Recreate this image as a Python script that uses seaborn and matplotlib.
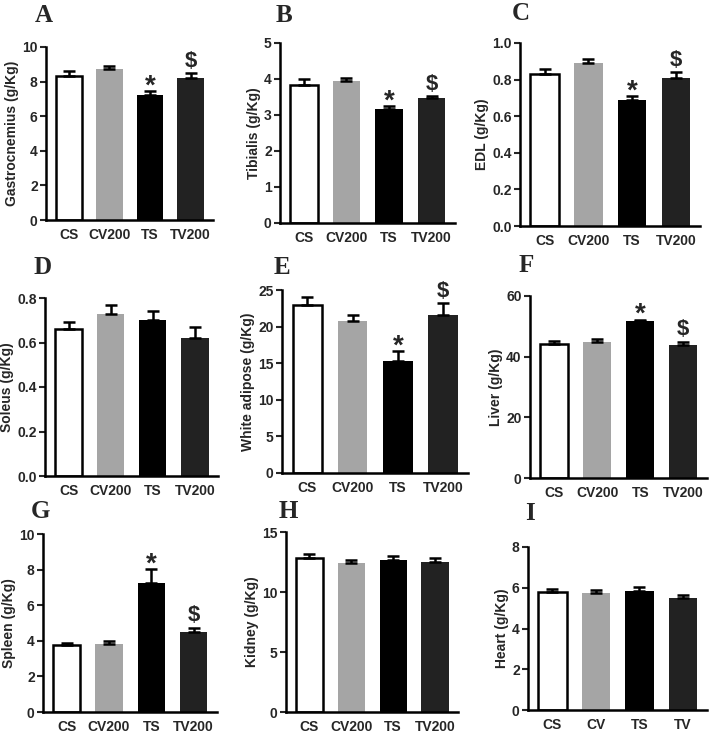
import numpy as np
import matplotlib
matplotlib.use("Agg")
import matplotlib.pyplot as plt
from matplotlib.ticker import FormatStrFormatter
from matplotlib.font_manager import FontProperties
import seaborn as sns

# groups on the x axis
groups = ["CS", "CV200", "TS", "TV200"]
groups_short = ["CS", "CV", "TS", "TV"]

# organ weights (g/Kg), mean and SEM
gastrocnemius = [8.35, 8.75, 7.2, 8.2]
gastrocnemius_err = [0.25, 0.15, 0.25, 0.3]
tibialis = [3.82, 3.95, 3.17, 3.47]
tibialis_err = [0.18, 0.08, 0.07, 0.06]
edl = [0.83, 0.89, 0.69, 0.81]
edl_err = [0.03, 0.02, 0.02, 0.03]
soleus = [0.66, 0.73, 0.70, 0.62]
soleus_err = [0.03, 0.04, 0.04, 0.05]
white_adipose = [23.0, 20.8, 15.3, 21.6]
white_adipose_err = [1.0, 0.8, 1.3, 1.6]
liver = [44.3, 44.8, 51.6, 44.0]
liver_err = [1.0, 1.0, 0.6, 1.0]
spleen = [3.75, 3.82, 7.22, 4.48]
spleen_err = [0.12, 0.18, 0.8, 0.25]
kidney = [12.8, 12.4, 12.65, 12.5]
kidney_err = [0.35, 0.3, 0.35, 0.3]
heart = [5.78, 5.72, 5.85, 5.48]
heart_err = [0.18, 0.17, 0.17, 0.17]

# significance marks per group (TS vs CS "*", TV200 vs TS "$")
marks_sig = ["", "", "*", "$"]
marks_none = ["", "", "", ""]

bar_colors = ["#ffffff", "#a5a5a5", "#000000", "#222222"]

sns.set_style("ticks")
plt.rcParams["font.family"] = ["Liberation Sans", "DejaVu Sans"]

W, H = 709, 734
fig = plt.figure(figsize=(W / 100, H / 100), dpi=100)

bold = FontProperties(family="Liberation Sans", weight="bold", size=10)
star_font = FontProperties(family="Liberation Sans", weight="bold", size=20)
dollar_font = FontProperties(family="Liberation Sans", weight="bold", size=16)
letter_font = FontProperties(family="Liberation Serif", weight="bold", size=18)


def px_axes(left, bottom, right, top):
    # axes rectangle given in pixel coordinates of the image
    return fig.add_axes([left / W, (H - bottom) / H, (right - left) / W, (bottom - top) / H])


def draw_panel(ax, values, errs, ylabel, ymax, step, fmt, marks, labels=groups):
    sns.barplot(x=labels, y=values, hue=labels, palette=bar_colors, legend=False,
                width=0.65, ax=ax, saturation=1)
    # white bar needs a black outline
    for i, p in enumerate(ax.patches):
        if i == 0:
            p.set_edgecolor("black")
            p.set_linewidth(1.8)
        else:
            p.set_edgecolor("none")
    x = np.arange(len(values))
    ax.errorbar(x, values, yerr=[np.zeros(len(errs)), errs], fmt="none",
                ecolor="black", elinewidth=1.8, capsize=4.5, capthick=1.8, zorder=3)
    for xi, v, e, m in zip(x, values, errs, marks):
        if m == "*":
            ax.annotate(m, (xi, v + e), xytext=(0, -6), textcoords="offset points",
                        ha="center", va="bottom", fontproperties=star_font)
        elif m:
            ax.annotate(m, (xi, v + e), xytext=(0, 1), textcoords="offset points",
                        ha="center", va="bottom", fontproperties=dollar_font)
    ax.set_xlim(-0.56, 3.55)
    ax.set_ylim(0, ymax)
    ax.set_yticks(np.arange(0, ymax + step / 2, step))
    ax.yaxis.set_major_formatter(FormatStrFormatter(fmt))
    ax.set_ylabel(ylabel, fontproperties=bold, labelpad=2)
    ax.set_xlabel("")
    ax.tick_params(axis="x", length=0, pad=6)
    ax.tick_params(axis="y", length=4, width=1.5, pad=2)
    for lab in ax.get_xticklabels() + ax.get_yticklabels():
        lab.set_fontproperties(bold)
    sns.despine(ax=ax)
    for s in ["left", "bottom"]:
        ax.spines[s].set_linewidth(1.8)
        ax.spines[s].set_color("black")


axA = px_axes(46, 220, 213, 47)
draw_panel(axA, gastrocnemius, gastrocnemius_err, "Gastrocnemius (g/Kg)", 10, 2, "%d", marks_sig)
axB = px_axes(280, 223, 455, 43)
draw_panel(axB, tibialis, tibialis_err, "Tibialis (g/Kg)", 5, 1, "%d", marks_sig)
axC = px_axes(520, 226, 700, 43)
draw_panel(axC, edl, edl_err, "EDL (g/Kg)", 1.0, 0.2, "%.1f", marks_sig)
axD = px_axes(45, 476, 218, 298)
draw_panel(axD, soleus, soleus_err, "Soleus (g/Kg)", 0.8, 0.2, "%.1f", marks_none)
axE = px_axes(282, 473, 468, 290)
draw_panel(axE, white_adipose, white_adipose_err, "White adipose (g/Kg)", 25, 5, "%d", marks_sig)
axF = px_axes(530, 478, 707, 296)
draw_panel(axF, liver, liver_err, "Liver (g/Kg)", 60, 20, "%d", marks_sig)
axG = px_axes(43, 712, 217, 534)
draw_panel(axG, spleen, spleen_err, "Spleen (g/Kg)", 10, 2, "%d", marks_sig)
axH = px_axes(286, 712, 458, 532)
draw_panel(axH, kidney, kidney_err, "Kidney (g/Kg)", 15, 5, "%d", marks_none)
axI = px_axes(528, 710, 707, 547)
draw_panel(axI, heart, heart_err, "Heart (g/Kg)", 8, 2, "%d", marks_none, labels=groups_short)

# panel letters
letters = [("A", 44, 15), ("B", 284, 15), ("C", 521, 14),
           ("D", 43, 267), ("E", 282, 267), ("F", 526, 265),
           ("G", 40, 512), ("H", 288, 511), ("I", 530, 513)]
for t, px, py in letters:
    fig.text(px / W, 1 - py / H, t, ha="center", va="center", fontproperties=letter_font)

fig.savefig("out.png", dpi=100)
